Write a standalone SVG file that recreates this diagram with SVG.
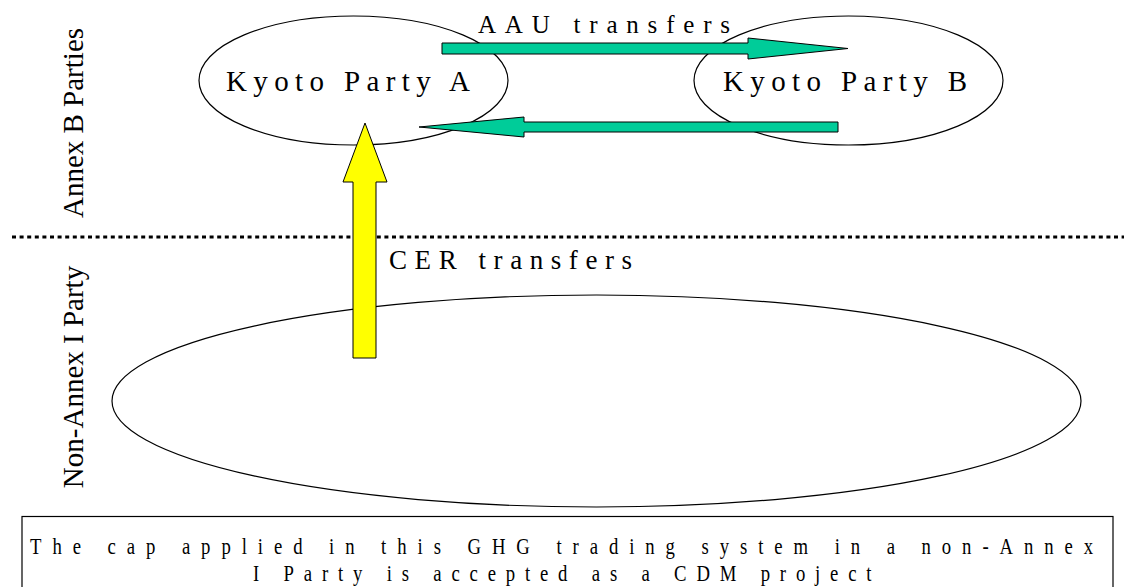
<svg xmlns="http://www.w3.org/2000/svg" width="1129" height="587" viewBox="0 0 1129 587">
<style>
.ell{fill:none;stroke:#000;stroke-width:1.2}
.t{font-family:"Liberation Serif","Times New Roman",serif;fill:#000}
.green{fill:#00CC99;stroke:#000;stroke-width:1}
.yellow{fill:#FFFF00;stroke:#000;stroke-width:1}
</style>
<rect width="1129" height="587" fill="#fff"/>
<g id="divider">
<line x1="12" y1="237" x2="1124" y2="237" stroke="#000" stroke-width="3" stroke-dasharray="4 3.6"/>
</g>
<g id="label-annexB">
<text class="t" font-size="29" text-anchor="middle" transform="translate(83,123) rotate(-90)">Annex B Parties</text>
</g>
<g id="label-nonannex">
<text class="t" font-size="29" text-anchor="middle" transform="translate(83,377) rotate(-90)">Non-Annex I Party</text>
</g>
<g id="non-annex-party">
<ellipse class="ell" cx="596.5" cy="401" rx="484.5" ry="106"/>
</g>
<g id="kyoto-a">
<ellipse class="ell" cx="353.5" cy="80.5" rx="154.5" ry="64.5"/>
<text class="t" x="226" y="91" font-size="29" textLength="244" lengthAdjust="spacing">Kyoto Party A</text>
</g>
<g id="kyoto-b">
<ellipse class="ell" cx="848.5" cy="80.5" rx="154.5" ry="64.5"/>
<text class="t" x="723" y="91" font-size="29" textLength="244" lengthAdjust="spacing">Kyoto Party B</text>
</g>
<g id="connectors">
<polygon class="green" points="442,43 748,43 748,38 848,48.5 748,59 748,54 442,54"/>
<polygon class="green" points="838,122 524,122 524,117 419,127 524,137 524,132 838,132"/>
<polygon class="yellow" points="365,123 387,182 376,182 376,358 353,358 353,182 343,182"/>
<text class="t" x="478" y="33" font-size="25" textLength="252" lengthAdjust="spacing">AAU transfers</text>
<text class="t" x="389" y="269" font-size="27" textLength="243" lengthAdjust="spacing">CER transfers</text>
</g>
<g id="caption">
<rect x="22" y="516.5" width="1091" height="75" fill="none" stroke="#000" stroke-width="1.2"/>
<g transform="scale(0.78,1)">
<text class="t" x="38.5" y="554" font-size="24" textLength="1363" lengthAdjust="spacing">The cap applied in this GHG trading system in a non-Annex</text>
<text class="t" x="324.4" y="581" font-size="24" textLength="793" lengthAdjust="spacing">I Party is accepted as a CDM project</text>
</g>
</g>
</svg>
